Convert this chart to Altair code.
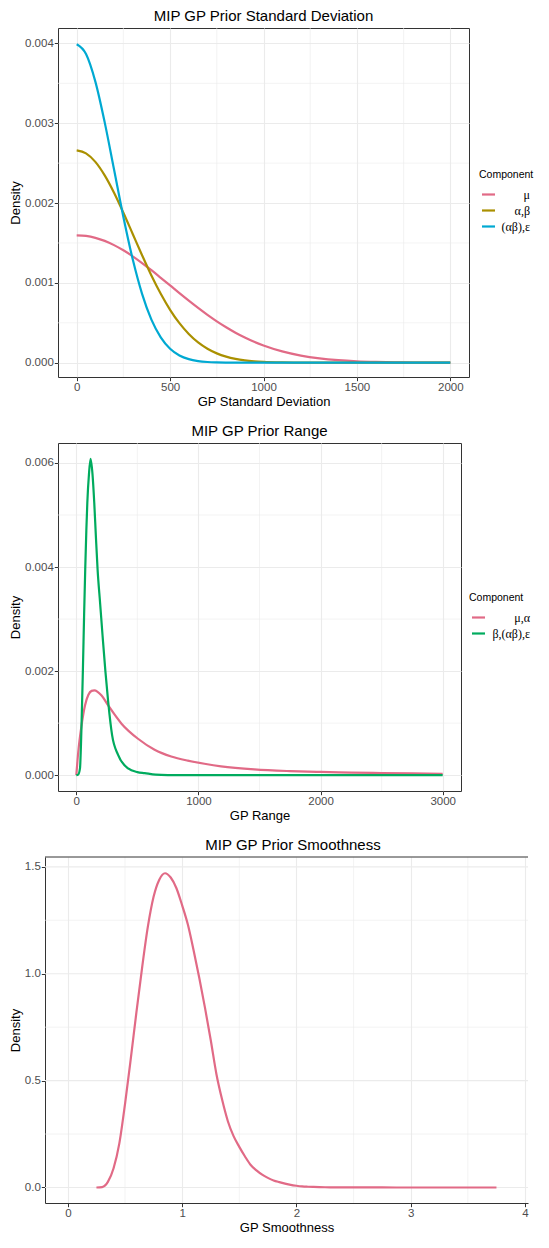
import altair as alt
import pandas as pd

FONT = "Liberation Sans"
SERIF = "Liberation Serif"
GRID = "#EBEBEB"
BORDER = "#333333"

# ---------------- Panel 1: GP standard deviation ----------------
sd_x = [0, 50, 100, 150, 200, 250, 300, 350, 400, 450, 500, 550, 600, 650, 700,
        750, 800, 850, 900, 950, 1000, 1100, 1200, 1300, 1400, 1500, 1600, 1700,
        1800, 1900, 2000]
sd_mu = [0.001596, 0.001588, 0.001564, 0.001526, 0.001473, 0.001408, 0.001333,
         0.001249, 0.001159, 0.001064, 0.000968, 0.000871, 0.000777, 0.000686,
         0.000599, 0.000518, 0.000444, 0.000376, 0.000316, 0.000262, 0.000216,
         0.000142, 0.0000896, 0.0000543, 0.0000317, 0.0000177, 0.0000095,
         0.0000049, 0.0000024, 0.0000012, 0.0000005]
sd_ab = [0.002660, 0.002623, 0.002516, 0.002347, 0.002130, 0.001879, 0.001613,
         0.001347, 0.001093, 0.000864, 0.000663, 0.000495, 0.000360, 0.000254,
         0.000175, 0.000117, 0.0000760, 0.0000480, 0.0000296, 0.0000177,
         0.0000103, 0.0000032, 0.0000009, 0.0000002, 0, 0, 0, 0, 0, 0, 0]
sd_abe = [0.003989, 0.003867, 0.003521, 0.003011, 0.002420, 0.001826, 0.001295,
          0.000863, 0.000540, 0.000318, 0.000175, 0.0000910, 0.0000443,
          0.0000203, 0.0000087, 0.0000035, 0.0000013, 0.0000004, 0.0000001,
          0, 0, 0, 0, 0, 0, 0, 0, 0, 0, 0, 0]
sd_labels = ["μ", "α,β", "(αβ),ε"]
sd_colors = ["#E16A86", "#AA9000", "#00A9D2"]
sd_xticks = [0, 500, 1000, 1500, 2000]
sd_xminor = [250, 750, 1250, 1750]
sd_yticks = [0, 0.001, 0.002, 0.003, 0.004]
sd_yminor = [0.0005, 0.0015, 0.0025, 0.0035]

# ---------------- Panel 2: GP range ----------------
rg_x_1 = [0, 16, 43, 71, 98, 125, 147, 207, 261, 370, 505, 641, 777, 913, 1049,
          1185, 1457, 1750, 2000, 2250, 2500, 2750, 3000]
rg_y_1 = [0, 0.00045, 0.00096, 0.00134, 0.00154, 0.00162, 0.00163, 0.00153,
          0.00134, 0.00099, 0.00070, 0.00049, 0.00036, 0.00028, 0.00022,
          0.00017, 0.00011, 0.000078, 0.000062, 0.00005, 0.00004, 0.000033,
          0.000028]
rg_x_2 = [0, 15, 30, 42, 54, 64, 73, 82, 90, 104, 117, 132, 147, 160, 174, 195,
          215, 238, 261, 293, 342, 424, 500, 560, 650, 750, 1000, 1500, 2000,
          2500, 3000]
rg_y_2 = [0, 0.00001, 0.00013, 0.0009, 0.00204, 0.0031, 0.00396, 0.0047,
          0.00523, 0.0058, 0.00608, 0.0058, 0.00523, 0.0046, 0.00396, 0.0033,
          0.00268, 0.0020, 0.00141, 0.00077, 0.00039, 0.00013, 0.00006,
          0.00004, 0.00001, 0.000003, 0, 0, 0, 0, 0]
rg_labels = ["μ,α", "β,(αβ),ε"]
rg_colors = ["#E16A86", "#00AB5E"]
rg_xticks = [0, 1000, 2000, 3000]
rg_xminor = [500, 1500, 2500]
rg_yticks = [0, 0.002, 0.004, 0.006]
rg_yminor = [0.001, 0.003, 0.005]

# ---------------- Panel 3: GP smoothness ----------------
sm_x = [0.25, 0.30, 0.35, 0.40, 0.45, 0.50, 0.55, 0.60, 0.65, 0.70, 0.75, 0.80,
        0.85, 0.90, 0.95, 1.00, 1.05, 1.10, 1.15, 1.20, 1.25, 1.30, 1.35, 1.40,
        1.45, 1.50, 1.55, 1.60, 1.65, 1.70, 1.75, 1.80, 1.85, 1.90, 1.95, 2.00,
        2.05, 2.10, 2.15, 2.20, 2.25, 2.30, 2.35, 2.40, 2.45, 2.50, 2.75, 3.00,
        3.25, 3.50, 3.75]
sm_y = [0.000, 0.002, 0.026, 0.090, 0.205, 0.39, 0.60, 0.82, 1.03, 1.22, 1.36,
        1.44, 1.47, 1.45, 1.40, 1.32, 1.23, 1.11, 0.98, 0.84, 0.69, 0.53, 0.41,
        0.31, 0.24, 0.19, 0.145, 0.105, 0.080, 0.060, 0.045, 0.033, 0.025,
        0.018, 0.012, 0.008, 0.005, 0.0035, 0.0025, 0.0017, 0.0011, 0.0007,
        0.0005, 0.0003, 0.0002, 0.00013, 0.00003, 0.00001, 0, 0, 0]
sm_labels = ["smoothness"]
sm_colors = ["#E16A86"]
sm_xticks = [0, 1, 2, 3, 4]
sm_xminor = [0.5, 1.5, 2.5, 3.5]
sm_yticks = [0, 0.5, 1.0, 1.5]
sm_yminor = [0.25, 0.75, 1.25]


def long_df(xs, ys, labels):
    rows = []
    for xv, yv, lab in zip(xs, ys, labels):
        for a, b in zip(xv, yv):
            rows.append({"x": a, "y": b, "c": lab})
    return pd.DataFrame(rows)


def panel(df, labels, colors, xdom, ydom, xticks, xminor, yticks, yminor,
          xfmt, yfmt, xtitle, title, w, h, legend=None, shift=0, title_dx=0):
    # shift > 0: plot area extends `shift` px left of the group origin
    if shift:
        xs = alt.Scale(domain=xdom, nice=False, zero=False, range=[-shift, w])
    else:
        xs = alt.Scale(domain=xdom, nice=False, zero=False)
    ys = alt.Scale(domain=ydom, nice=False, zero=False)
    xaxis = alt.Axis(values=xticks, format=xfmt, title=xtitle, grid=True,
                     domain=bool(shift), domainColor=BORDER, domainWidth=1)
    yaxis = alt.Axis(values=yticks, format=yfmt, title="Density",
                     grid=not shift, offset=shift,
                     domain=bool(shift), domainColor=BORDER, domainWidth=1)
    vminor = alt.Chart(pd.DataFrame({"x": xminor})).mark_rule(
        color=GRID, strokeWidth=0.6).encode(x=alt.X("x:Q", scale=xs, axis=xaxis))
    if shift:
        hgrid = alt.Chart(pd.DataFrame({"y": yticks + yminor,
                                        "w": [1.1] * len(yticks) + [0.6] * len(yminor)})
                          ).mark_rule(color=GRID).encode(
            y=alt.Y("y:Q", scale=ys, axis=yaxis),
            x=alt.value(-shift), x2=alt.value(w),
            strokeWidth=alt.StrokeWidth("w:Q", scale=None))
    else:
        hgrid = alt.Chart(pd.DataFrame({"y": yminor})).mark_rule(
            color=GRID, strokeWidth=0.6).encode(y=alt.Y("y:Q", scale=ys, axis=yaxis))
    if legend is None:
        color = alt.Color("c:N", scale=alt.Scale(domain=labels, range=colors),
                          legend=None)
    else:
        lx, ly, loff = legend
        color = alt.Color(
            "c:N", scale=alt.Scale(domain=labels, range=colors),
            sort=labels,
            legend=alt.Legend(
                title="Component", orient="none", legendX=lx, legendY=ly,
                symbolType="stroke", symbolStrokeWidth=2.2, symbolSize=169,
                symbolOffset=1.5,
                labelFont=SERIF, labelFontSize=12, labelColor="black",
                labelAlign="right", labelOffset=loff, labelLimit=200,
                titleFont=FONT, titleFontSize=10.5, titleFontWeight="normal",
                titleColor="black", titlePadding=6, rowPadding=2))
    lines = alt.Chart(df).mark_line(strokeWidth=2.2, interpolate="monotone").encode(
        x=alt.X("x:Q", scale=xs, axis=xaxis),
        y=alt.Y("y:Q", scale=ys, axis=yaxis),
        color=color,
        detail="c:N",
    )
    layers = [vminor, hgrid, lines]
    if shift:
        top = alt.Chart(pd.DataFrame({"v": [0]})).mark_rule(
            color=BORDER, strokeWidth=1).encode(
            y=alt.value(0), x=alt.value(-shift), x2=alt.value(w))
        layers.append(top)
    ch = alt.layer(*layers).properties(
        width=w, height=h,
        title=alt.TitleParams(title, anchor="middle", frame="group",
                              font=FONT, fontSize=15, fontWeight="normal",
                              color="black", offset=4, dx=title_dx))
    if shift:
        ch = ch.properties(view=alt.ViewBackground(strokeOpacity=0))
    return ch


p1 = panel(long_df([sd_x, sd_x, sd_x], [sd_mu, sd_ab, sd_abe], sd_labels),
           sd_labels, sd_colors, [-100, 2100], [-0.000179, 0.004193],
           sd_xticks, sd_xminor, sd_yticks, sd_yminor, "d", ".3f",
           "GP Standard Deviation", "MIP GP Prior Standard Deviation",
           411, 349, legend=(421, 142, 33.5))
p2 = panel(long_df([rg_x_1, rg_x_2], [rg_y_1, rg_y_2], rg_labels),
           rg_labels, rg_colors, [-150, 3150], [-0.000304, 0.006384],
           rg_xticks, rg_xminor, rg_yticks, rg_yminor, "d", ".3f",
           "GP Range", "MIP GP Prior Range", 403, 348, legend=(411, 150, 43.5))
p3 = panel(long_df([sm_x], [sm_y], sm_labels),
           sm_labels, sm_colors, [-0.2, 4.026], [-0.0726, 1.546],
           sm_xticks, sm_xminor, sm_yticks, sm_yminor, "d", ".1f",
           "GP Smoothness", "MIP GP Prior Smoothness", 470, 346,
           shift=13, title_dx=0)

chart = alt.concat(p1, p2, p3, columns=1, spacing=14, align="none").properties(
    padding={"left": 1, "top": 0, "right": 0, "bottom": 0},
).resolve_scale(color="independent").configure_axis(
    labelFont=FONT, labelFontSize=11.5, labelColor="#4D4D4D",
    tickColor=BORDER, tickSize=3.7, tickWidth=1,
    labelPadding=1, titlePadding=2,
    titleFont=FONT, titleFontSize=13, titleFontWeight="normal",
    titleColor="black", gridColor=GRID, gridWidth=1.1,
).configure_view(stroke=BORDER, strokeWidth=1)

chart.save("out.html", embed_options={"renderer": "svg", "actions": False})
